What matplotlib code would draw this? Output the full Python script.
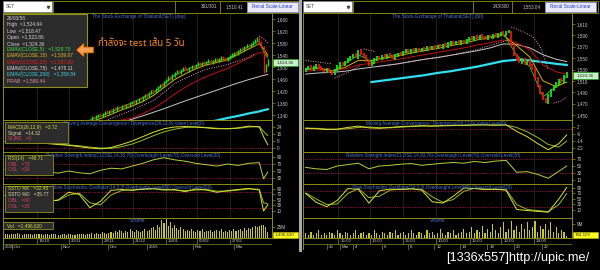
import numpy as np
import matplotlib.pyplot as plt
from matplotlib.patches import Rectangle

plt.rcParams['font.family'] = ['Liberation Sans', 'DejaVu Sans']

# ---------------- data: left chart (daily) ----------------
L_CANDLE_START = 40
l_close = [1325, 1332, 1328, 1336, 1341, 1338, 1345, 1350, 1347, 1355,
           1352, 1360, 1358, 1366, 1363, 1370, 1368, 1375, 1372, 1380,
           1384, 1379, 1388, 1395, 1392, 1401, 1408, 1404, 1413, 1420,
           1416, 1426, 1434, 1441, 1437, 1449, 1458, 1466, 1461, 1472,
           1479, 1486, 1482, 1490, 1497, 1493, 1488, 1496, 1503, 1499,
           1507, 1512, 1506, 1515, 1509, 1517, 1522, 1514, 1520, 1526,
           1519, 1527, 1533, 1528, 1524, 1531, 1536, 1542, 1548, 1545,
           1553, 1560, 1557, 1566, 1572, 1569, 1578, 1584, 1589, 1598,
           1580, 1565, 1482, 1506, 1524]
l_open = [1318, 1324, 1334, 1327, 1335, 1343, 1337, 1344, 1352, 1346,
          1357, 1351, 1362, 1357, 1368, 1362, 1372, 1367, 1378, 1371,
          1378, 1386, 1378, 1387, 1397, 1391, 1400, 1410, 1403, 1412,
          1423, 1415, 1425, 1433, 1443, 1436, 1448, 1457, 1468, 1460,
          1471, 1478, 1488, 1481, 1489, 1499, 1495, 1487, 1495, 1505,
          1498, 1506, 1514, 1505, 1516, 1508, 1516, 1523, 1513, 1519,
          1527, 1518, 1526, 1535, 1530, 1523, 1530, 1535, 1541, 1550,
          1544, 1552, 1562, 1556, 1565, 1575, 1568, 1577, 1583, 1588,
          1597, 1582, 1568, 1485, 1506]
l_volume = [8, 9, 7, 10, 8, 9, 11, 8, 7, 9, 10, 8, 9, 7, 8, 10, 9, 8, 7, 9,
            8, 7, 9, 10, 8, 7, 6, 8, 9, 7, 8, 9, 7, 6, 8, 9, 10, 8, 7, 9,
            10, 12, 9, 11, 8, 10, 13, 11, 9, 12, 14, 11, 16, 13, 18, 15, 12, 17, 14, 20,
            16, 13, 19, 15, 14, 17, 20, 15, 18, 22, 26, 19, 30, 25, 41, 34, 43, 28, 36, 23,
            30, 22, 18, 24, 20, 16, 19, 15, 21, 17, 14, 18, 16, 20, 13, 17, 15, 19, 14, 16,
            18, 15, 20, 13, 17, 14, 19, 16, 21, 15, 18, 20, 16, 22, 19, 23, 21, 26, 28, 25,
            27, 30, 29, 24, 14]

l_ema_x = [40, 45, 50, 55, 60, 65, 70, 75, 80, 85, 90, 95, 100, 105, 110, 115, 120, 122, 124]
l_ema5 = [1322, 1336, 1350, 1366, 1381, 1398, 1414, 1443, 1472, 1490, 1503, 1514, 1520, 1528, 1548, 1568, 1586, 1552, 1530]
l_ema15 = [1315, 1328, 1342, 1357, 1370, 1385, 1405, 1432, 1458, 1477, 1494, 1507, 1515, 1524, 1542, 1560, 1578, 1562, 1539]
l_ema35 = [1300, 1308, 1316, 1323, 1330, 1345, 1362, 1384, 1410, 1432, 1452, 1468, 1482, 1495, 1512, 1530, 1548, 1546, 1535]
l_ema75 = [1285, 1295, 1305, 1315, 1326, 1337, 1349, 1361, 1374, 1387, 1399, 1411, 1423, 1435, 1447, 1458, 1468, 1472, 1475]
l_ema200 = [1240, 1245, 1250, 1256, 1262, 1268, 1275, 1282, 1290, 1298, 1306, 1314, 1322, 1330, 1337, 1345, 1352, 1356, 1359]
l_sar_x = [40, 45, 50, 55, 60, 65, 70, 75, 80, 85, 90, 95, 100, 105, 110, 115, 118, 119, 120, 122, 124]
l_sar = [1300, 1315, 1328, 1342, 1356, 1372, 1388, 1415, 1445, 1462, 1478, 1492, 1500, 1508, 1520, 1532, 1545, None, 1602, 1595, 1580]

l_ind_x = [0, 5, 10, 15, 20, 25, 30, 35, 40, 45, 50, 55, 60, 65, 70, 75, 80, 85, 90, 95, 100, 105, 110, 115, 120, 122, 124]
l_macd = [7, 6.5, 6, 5.5, 5, 4, 3, 1.5, 0, -1, 0.5, 4, 8, 13, 18, 22, 24, 24.5, 24, 23, 22, 22, 23, 25, 24, 13, 3.7]
l_signal = [7.5, 7, 6.5, 6, 5.5, 4.5, 3.5, 2.5, 1, 0, -0.5, 1.5, 4.5, 9, 14, 18.5, 21.5, 23.5, 24, 23.5, 22.5, 22, 22.5, 24, 24.5, 19, 14.3]
l_rsi = [55, 50, 46, 52, 48, 44, 50, 45, 42, 52, 58, 56, 64, 72, 82, 88, 82, 78, 72, 68, 64, 70, 66, 72, 74, 28, 46.7]
l_stk = [65, 50, 40, 55, 45, 50, 78, 70, 22, 45, 85, 88, 85, 90, 92, 86, 88, 80, 90, 86, 78, 84, 88, 92, 86, 10, 32.5]
l_std = [68, 55, 45, 50, 48, 48, 68, 75, 40, 32, 68, 84, 87, 88, 90, 88, 86, 84, 86, 88, 82, 82, 86, 90, 89, 40, 35.8]

l_date_pos = [15, 30, 45.7, 60.3, 75.9, 90.5, 106.1]
l_date_lab = ['16/10', '20/11', '28/11', '21/12', '15/01', '05/02', '27/02']
l_month_pos = [-0.8, 3.2, 26.4, 48.5, 66.9, 88.6, 108]
l_month_lab = ['2555', 'Oct', 'Nov', 'Dec', '2556', 'Feb', 'Mar']

# ---------------- data: right chart (60 min) ----------------
r_close = [1532, 1535, 1530, 1534, 1538, 1533, 1530, 1527, 1531, 1526,
           1522, 1530, 1536, 1541, 1538, 1544, 1548, 1552, 1556, 1551,
           1563, 1557, 1553, 1545, 1538, 1542, 1548, 1552, 1549, 1554,
           1551, 1556, 1553, 1550, 1555, 1558, 1556, 1561, 1564, 1560,
           1565, 1562, 1566, 1563, 1567, 1565, 1569, 1566, 1570, 1568,
           1572, 1569, 1574, 1571, 1576, 1578, 1575, 1579, 1576, 1580,
           1577, 1582, 1586, 1583, 1588, 1585, 1590, 1587, 1584, 1589,
           1586, 1591, 1588, 1592, 1595, 1591, 1596, 1598, 1572, 1555,
           1547, 1543, 1548, 1540, 1545, 1538, 1530, 1515, 1500, 1488,
           1478, 1472, 1485, 1494, 1500, 1506, 1512, 1509, 1518, 1524]
r_open = [1528, 1531, 1536, 1529, 1533, 1539, 1534, 1531, 1526, 1532,
          1527, 1521, 1529, 1535, 1542, 1537, 1543, 1547, 1551, 1557,
          1550, 1564, 1558, 1554, 1546, 1537, 1541, 1547, 1553, 1548,
          1555, 1550, 1557, 1554, 1549, 1554, 1559, 1555, 1560, 1565,
          1559, 1566, 1561, 1567, 1562, 1568, 1564, 1570, 1565, 1571,
          1567, 1573, 1568, 1575, 1570, 1575, 1579, 1574, 1580, 1575,
          1581, 1576, 1581, 1587, 1582, 1589, 1584, 1591, 1588, 1583,
          1590, 1585, 1592, 1587, 1591, 1596, 1590, 1595, 1597, 1573,
          1556, 1548, 1542, 1549, 1539, 1546, 1539, 1531, 1516, 1501,
          1489, 1479, 1471, 1484, 1493, 1499, 1505, 1513, 1508, 1517]
r_volume = [3, 2, 4, 2, 3, 5, 2, 3, 2, 4, 3, 2, 5, 3, 2, 4, 3, 2, 3, 5,
            2, 3, 4, 2, 3, 2, 5, 3, 2, 4, 3, 2, 4, 3, 5, 2, 3, 4, 2, 3,
            5, 3, 2, 4, 3, 2, 5, 3, 4, 2, 3, 6, 3, 2, 4, 3, 5, 2, 3, 4,
            6, 3, 4, 7, 3, 5, 4, 8, 3, 6, 4, 9, 5, 3, 7, 10, 4, 6, 11, 5,
            8, 4, 9, 6, 10, 5, 7, 11, 4, 8, 6, 9, 5, 10, 4, 7, 3, 5, 4, 1]

r_ema_x = [0, 5, 10, 15, 20, 25, 30, 35, 40, 45, 50, 55, 60, 65, 70, 75, 80, 85, 90, 95, 99]
r_ema5 = [1532, 1533, 1526, 1540, 1556, 1544, 1552, 1557, 1563, 1566, 1571, 1576, 1579, 1586, 1588, 1593, 1555, 1535, 1482, 1500, 1518]
r_ema15 = [1530, 1532, 1528, 1534, 1546, 1546, 1550, 1554, 1559, 1563, 1567, 1572, 1576, 1582, 1586, 1590, 1572, 1552, 1510, 1500, 1508]
r_ema35 = [1527, 1529, 1528, 1531, 1538, 1541, 1545, 1548, 1552, 1556, 1560, 1564, 1568, 1573, 1577, 1582, 1577, 1565, 1538, 1526, 1522]
r_ema75 = [1522, 1524, 1525, 1527, 1531, 1534, 1537, 1540, 1544, 1548, 1551, 1555, 1559, 1563, 1568, 1575, 1574, 1568, 1556, 1548, 1544]
r_ema200 = [None, None, None, None, None, 1508, 1511, 1514, 1517, 1520, 1524, 1527, 1531, 1535, 1540, 1545, 1547, 1546, 1543, 1540, 1538]
r_sar_x = [0, 5, 10, 10.5, 11, 16, 21, 21.5, 22, 26, 26.5, 27, 35, 45, 55, 65, 72, 77, 77.5, 78, 82, 86, 89, 92, 93, 94, 97, 99]
r_sar = [1546, 1543, 1540, None, 1515, 1525, 1538, None, 1566, 1562, None, 1535, 1540, 1548, 1555, 1565, 1575, 1582, None,
         1605, 1597, 1588, 1570, 1530, None, 1471, 1475, 1482]

r_ind_x = [0, 4, 8, 12, 16, 20, 24, 28, 32, 36, 40, 44, 48, 52, 56, 60, 64, 68, 72, 76, 80, 84, 88, 92, 96, 99]
r_macd = [0.5, 0, -1, -0.5, 1.5, 3, 1, 0.5, 1.5, 2.5, 3, 3.5, 3, 3.5, 4, 4, 4.5, 4.5, 4, 4.5, -3, -9, -17, -24, -17, -7]
r_signal = [0.8, 0.5, -0.3, -0.6, 0, 1.5, 2, 1.2, 1, 1.8, 2.5, 3, 3.2, 3.3, 3.6, 3.8, 4.1, 4.3, 4.3, 4.3, 1.5, -3.5, -10, -18, -21, -14]
r_rsi = [46, 42, 40, 50, 54, 58, 42, 50, 52, 55, 57, 52, 55, 58, 60, 58, 63, 60, 64, 66, 32, 34, 26, 15, 35, 50]
r_stk = [70, 38, 22, 45, 88, 85, 35, 80, 86, 84, 88, 82, 40, 35, 60, 90, 88, 84, 86, 82, 12, 8, 5, 2, 50, 92]
r_std = [72, 50, 30, 32, 70, 88, 55, 60, 82, 86, 86, 85, 58, 38, 48, 78, 89, 86, 85, 84, 30, 12, 8, 4, 30, 70]

r_date_pos = [12.3, 24.4, 36.9, 49.4, 62.3, 74.1, 86.6]
r_date_lab = ['15:00', '10:00', '15:00', '10:00', '15:00', '10:00', '14:00']
r_day_pos = [8.1, 13, 18, 29, 38.8, 48.7, 58.5, 68.8, 79, 89.6]
r_day_lab = ['26', 'Mar', '4', '6', '8', '12', '14', '18', '20', '22']

# ---------------- style ----------------
W, H = 600, 270
OLIVE = '#8c8c14'
TXT = '#c8c8c8'
BLUE = '#4a78d8'
LVL = '#b0204a'
C_GREEN, C_YEL, C_RED, C_WHITE, C_CYAN, C_PINK = '#20d820', '#d8b400', '#c81010', '#c8c8c8', '#30e0f0', '#f0a0b8'
K_COL, D_COL = '#e0e030', '#90c028'

fig = plt.figure(figsize=(6, 2.7), dpi=100, facecolor='black')


def pax(x0, y0, x1, y1):
    ax = fig.add_axes([x0 / W, 1 - y1 / H, (x1 - x0) / W, (y1 - y0) / H])
    ax.set_facecolor('black')
    return ax


def style(ax, xlim, ylim, ticks, labels):
    ax.set_xlim(*xlim)
    ax.set_ylim(*ylim)
    ax.set_xticks([])
    ax.yaxis.tick_right()
    ax.set_yticks(ticks, labels)
    ax.tick_params(axis='y', colors=OLIVE, labelcolor=TXT, labelsize=3.3,
                   length=2, width=0.5, pad=1.5)
    for s in ['left', 'right', 'top']:
        ax.spines[s].set_color(OLIVE)
        ax.spines[s].set_linewidth(0.7)
    ax.spines['bottom'].set_visible(False)


def arr(v):
    return np.array(v, dtype=float)


def build(side):
    if side == 'L':
        x0, x1, xlim = 3, 272, (-1, 126)
        cidx = np.arange(L_CANDLE_START, L_CANDLE_START + len(l_close))
        op, cl, vol = l_open, l_close, l_volume
        ex, e5, e15, e35, e75, e200 = l_ema_x, l_ema5, l_ema15, l_ema35, l_ema75, l_ema200
        sx, sv = l_sar_x, l_sar
        ix, macd, sig, rsi, stk, std = l_ind_x, l_macd, l_signal, l_rsi, l_stk, l_std
        plim, pt = (1323.3, 1680), list(range(1340, 1661, 40))
        mlim, mt = (-4.6, 32), [0, 8, 16, 24]
        rlim, rt = (12.9, 104.3), [30, 50, 70, 90]
        slim = (-15.5, 108)
        vlim, vt, vl = (0, 45.5), [25], ['25M']
        grid = l_date_pos
        bw, cw, pad = 0.5, 1.0, 3
    else:
        x0, x1, xlim = 303, 572, (-1, 101)
        cidx = np.arange(len(r_close))
        op, cl, vol = r_open, r_close, r_volume
        ex, e5, e15, e35, e75, e200 = r_ema_x, r_ema5, r_ema15, r_ema35, r_ema75, r_ema200
        sx, sv = r_sar_x, r_sar
        ix, macd, sig, rsi, stk, std = r_ind_x, r_macd, r_signal, r_rsi, r_stk, r_std
        plim, pt = (1441.3, 1629.3), list(range(1450, 1611, 20))
        mlim, mt = (-26.6, 10), [2, -6, -14, -22]
        rlim, rt = (-1.4, 90), [10, 30, 50, 70]
        slim = (-19.1, 104.5)
        vlim, vt, vl = (0, 12.85), [9], ['9M']
        grid = r_date_pos
        bw, cw, pad = 0.45, 1.3, 1.5

    # price
    ax = pax(x0, 13, x1, 120)
    style(ax, xlim, plim, pt, [f'{t:,}' for t in pt])
    for g in grid:
        ax.axvline(g, color='#2a2a2a', lw=0.5)
    ax.plot(ex, arr(e200), color=C_CYAN, lw=1.6)
    ax.plot(ex, arr(e75), color=C_WHITE, lw=0.7)
    ax.plot(ex, arr(e35), color=C_RED, lw=0.7)
    ax.plot(ex, arr(e15), color=C_YEL, lw=0.7)
    ax.plot(ex, arr(e5), color=C_GREEN, lw=0.6)
    ax.plot(sx, arr(sv), color=C_PINK, lw=0.7, ls=(0, (1, 1.5)))
    o, c = arr(op), arr(cl)
    cols = np.where(c >= o, '#19e019', '#f01010')
    ax.vlines(cidx, np.minimum(o, c) - pad, np.maximum(o, c) + pad, colors=cols, lw=cw)

    # MACD
    ax = pax(x0, 120, x1, 152)
    style(ax, xlim, mlim, mt, [str(t) for t in mt])
    for g in grid:
        ax.axvline(g, color='#2a2a2a', lw=0.5)
    ax.axhline(0, color=LVL, lw=0.6, ls=(0, (1, 1.2)))
    ax.plot(ix, sig, color=D_COL, lw=0.7)
    ax.plot(ix, macd, color=K_COL, lw=0.7)

    # RSI
    ax = pax(x0, 152, x1, 184)
    style(ax, xlim, rlim, rt, [str(t) for t in rt])
    for g in grid:
        ax.axvline(g, color='#2a2a2a', lw=0.5)
    for lv in (30, 70):
        ax.axhline(lv, color=LVL, lw=0.6, ls=(0, (1, 1.2)))
    ax.plot(ix, rsi, color='#b8d038', lw=0.7)

    # Stochastics
    ax = pax(x0, 184, x1, 218)
    style(ax, xlim, slim, [10, 30, 50, 70, 90], ['10', '30', '50', '70', '90'])
    for g in grid:
        ax.axvline(g, color='#2a2a2a', lw=0.5)
    for lv in (20, 80):
        ax.axhline(lv, color=LVL, lw=0.6, ls=(0, (1, 1.2)))
    ax.plot(ix, std, color=D_COL, lw=0.7)
    ax.plot(ix, stk, color=K_COL, lw=0.7)

    # Volume
    ax = pax(x0, 218, x1, 238)
    style(ax, xlim, vlim, vt, vl)
    ax.bar(np.arange(len(vol)), vol, width=bw, color='#c8c820', edgecolor='none')

    # date axis
    ax = pax(x0, 238, x1, 250)
    ax.set_xlim(*xlim)
    ax.set_ylim(2, 0)
    ax.axis('off')
    ax.axhline(0, color=OLIVE, lw=0.7)
    ax.axhline(1, color=OLIVE, lw=0.5)
    ax.axhline(2, color=OLIVE, lw=0.5)
    ax.axvline(xlim[0], color=OLIVE, lw=0.7)
    ax.axvline(xlim[1], color=OLIVE, lw=0.7)
    if side == 'L':
        top_pos, top_lab, bot_pos, bot_lab = l_date_pos, l_date_lab, l_month_pos, l_month_lab
    else:
        top_pos, top_lab, bot_pos, bot_lab = r_date_pos, r_date_lab, r_day_pos, r_day_lab
    for p, lab in zip(top_pos, top_lab):
        ax.vlines(p, 0, 1, color=OLIVE, lw=0.5)
        ax.text(p + 0.8, 0.55, lab, color=TXT, fontsize=3.2, va='center')
    for p, lab in zip(bot_pos, bot_lab):
        ax.vlines(p, 1, 2, color=OLIVE, lw=0.5)
        ax.text(p + 0.8, 1.55, lab, color=TXT, fontsize=3.2, va='center')


build('L')
build('R')

# ---------------- overlay: boxes and texts ----------------
ov = fig.add_axes([0, 0, 1, 1], zorder=5)
ov.set_xlim(0, W)
ov.set_ylim(H, 0)
ov.axis('off')
ov.patch.set_alpha(0)


def box(x0, y0, x1, y1, fc, ec, lw=0.6, z=2):
    ov.add_patch(Rectangle((x0, y0), x1 - x0, y1 - y0, fc=fc, ec=ec, lw=lw, zorder=z))


def txt(x, y, s, color=TXT, size=3.5, ha='left', z=3, **kw):
    ov.text(x, y, s, color=color, fontsize=size, ha=ha, va='center', zorder=z, **kw)


# splitter between the two charts
box(298.8, 0, 301.6, 252, '#a8a8a8', 'none', lw=0)

# top bars
for cx, bar_end, seps, cnt, cnt_x, val, val_x, rx in [
        (3, 298, (175, 220), '301/301', 217, '1,510.41', 243, 247),
        (303, 598, (473, 512), '243/300', 510, '1,553.84', 541, 545)]:
    box(cx, 1, cx + 49, 12, 'white', '#808080')
    txt(cx + 3, 6.5, 'SET', color='#404040', size=3.3)
    ov.plot(cx + 45, 6.5, marker='v', ms=1.6, color='#404040', zorder=3)
    box(cx + 50, 1, bar_end, 13, 'black', OLIVE)
    for s in seps:
        ov.vlines(s, 1, 13, color=OLIVE, lw=0.6, zorder=3)
    txt(cnt_x, 7, cnt, size=3.3, ha='right')
    txt(val_x, 7, val, size=3.3, ha='right')
    box(rx, 2, rx + 51, 12, '#e8e8f6', '#9090c8')
    txt(rx + 25.5, 7, 'Recal Scale-Linear', color='#2040c0', size=3.4, ha='center')

# panel titles
txt(92, 16.5, 'The Stock Exchange of Thailand(SET) [day]', color=BLUE, size=3.4, z=1)
txt(392, 16.5, 'The Stock Exchange of Thailand(SET) [60]', color=BLUE, size=3.4, z=1)
for off in (0, 300):
    txt(64 + off + (2 if off else 0), 124, 'Moving Average Convergence / Divergence(26,12,9),Value Level(0)',
        color=BLUE, size=3.3, z=1)
    txt(46 + off, 155.5, 'Relative Strength Index(CLOSE,14,30,70),Overbought Level(70),Oversold Level(30)',
        color=BLUE, size=3.3, z=1)
    txt(52 + off, 187, 'Slow Stochastics Oscillator(14,3,3),Overbought Level(80),Oversold Level(20)',
        color=BLUE, size=3.3, z=1)
    txt(130 + off, 221, 'Volume', color=BLUE, size=3.3, z=1)

# price info box
box(3, 13.5, 87, 87, '#2c2c2c', '#909020', lw=0.8)
info_rows = [('26/03/56', '#d0d0d0'), ('High  =1,524.64', '#d0d0d0'), ('Low  =1,518.47', '#d0d0d0'),
             ('Open  =1,523.86', '#d0d0d0'), ('Close  =1,524.36', '#d0d0d0'),
             ('EMAV(CLOSE,5)   =1,529.70', '#40e040'), ('EMAV(CLOSE,15)   =1,539.07', '#e0c020'),
             ('EMAV(CLOSE,35)   =1,532.69', '#e02020'), ('EMAV(CLOSE,75)   =1,475.11', '#e0e0e0'),
             ('EMAV(CLOSE,200)   =1,358.84', '#40d0e0'), ('PRAB  =1,580.44', '#e090a8')]
for i, (s, col) in enumerate(info_rows):
    txt(7, 18.3 + i * 6.25, s, color=col, size=3.5)

# indicator info boxes
box(5, 122, 68, 143, '#2c2c2c', '#909020')
txt(8, 127.5, 'MACD(26,12,9)   =3.72', color='#d8d840', size=3.4)
txt(8, 133.5, 'Signal   =14.32', color='#d8d8a8', size=3.4)
txt(8, 139, 'VLINE   =0', color='#e04060', size=3.4)
box(5, 154.5, 53, 175, '#2c2c2c', '#909020')
txt(8, 158.5, 'RSI(14)   =46.71', color='#c8d840', size=3.4)
txt(8, 164, 'OBL   =70', color='#e04060', size=3.4)
txt(8, 169.5, 'OSL   =30', color='#e04060', size=3.4)
box(5, 185.5, 53, 212, '#2c2c2c', '#909020')
txt(8, 189, 'SSTO %K   =32.45', color='#c0e040', size=3.4)
txt(8, 195, 'SSTO %D   =35.77', color='#e0e0a8', size=3.4)
txt(8, 201, 'OBL   =80', color='#e04060', size=3.4)
txt(8, 207, 'OSL   =20', color='#e04060', size=3.4)
box(3, 222, 53, 229, '#2c2c2c', '#909020')
txt(7, 225.5, 'Vol   =1,496,620', color='#e0e040', size=3.4)

# axis value labels
for x0, y0, s in [(273, 59, '1,524.36'), (573, 72, '1,524.36')]:
    box(x0, y0, x0 + 25, y0 + 6.5, '#c8f0c8', '#20a020', lw=0.5)
    txt(x0 + 12.5, y0 + 3.3, s, color='#202020', size=3.2, ha='center')
for x0, s in [(273, '1,496,620'), (573, '744,100')]:
    box(x0, 232, x0 + 25, 238, '#ffff20', '#c0c000', lw=0.4)
    txt(x0 + 2, 235, s, color='#202020', size=3.2)

# annotation
ov.annotate('', xy=(74, 50), xytext=(96, 50),
            arrowprops=dict(arrowstyle='simple,head_length=0.5,head_width=0.9,tail_width=0.4',
                            fc='#f0a050', ec='#ff7800', lw=0.6), zorder=4)
ov.text(98, 44, 'กำลังจะ test เส้น 5 วัน', color='#ff8a1c', fontsize=7, style='italic',
        fontweight='bold', va='center', zorder=4,
        family=['Noto Sans Thai', 'Loma', 'Garuda', 'Tlwg Typo', 'Noto Sans', 'DejaVu Sans'])

# watermark
ov.text(446, 258.5, '[1336x557]http://upic.me/', color='white', fontsize=9.2, va='center', zorder=4)

fig.savefig('out.png', dpi=100, facecolor='black')
